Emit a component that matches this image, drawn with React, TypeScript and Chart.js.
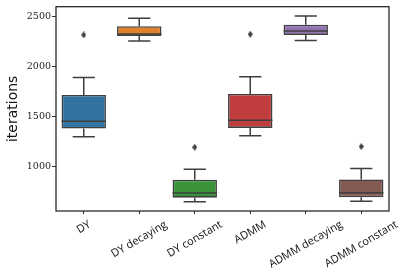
import React, { useEffect, useRef } from "react";
import { Chart, registerables } from "chart.js";

Chart.register(...registerables);

const categories = ["DY", "DY decaying", "DY constant", "ADMM", "ADMM decaying", "ADMM constant"];
const whiskerLow = [1294, 2257, 644, 1304, 2260, 647];
const q1 = [1377, 2307, 684, 1384, 2317, 687];
const median = [1450, 2327, 730, 1460, 2357, 734];
const q3 = [1714, 2404, 864, 1724, 2420, 867];
const whiskerHigh = [1890, 2484, 970, 1897, 2507, 977];
const outliers = [2317, null, 1190, 2324, null, 1197];
const colors = ["#3274a1", "#e1812c", "#3a923a", "#c03d3e", "#9372b2", "#845b53"];
const yTicks = [1000, 1500, 2000, 2500];

const EDGE = "#3f3f3f";
const XFONT_SIZE = 11;
const XFONT = `${XFONT_SIZE}px 'Open Sans', sans-serif`;

function makeThinDiamond(): HTMLCanvasElement {
  const c = document.createElement("canvas");
  c.width = 5;
  c.height = 7;
  const g = c.getContext("2d")!;
  g.fillStyle = EDGE;
  g.beginPath();
  g.moveTo(2.5, 0);
  g.lineTo(5, 3.5);
  g.lineTo(2.5, 7);
  g.lineTo(0, 3.5);
  g.closePath();
  g.fill();
  return c;
}

const boxPlugin = {
  id: "boxParts",
  beforeDatasetsDraw(chart: any) {
    const ctx = chart.ctx;
    const x = chart.scales.x;
    const y = chart.scales.y;
    const meta = chart.getDatasetMeta(0);
    ctx.save();
    ctx.strokeStyle = EDGE;
    ctx.lineWidth = 1.5;
    categories.forEach((_, i) => {
      const cx = x.getPixelForValue(i);
      const bar = meta.data[i];
      const half = bar ? bar.width / 4 : 11;
      ctx.beginPath();
      ctx.moveTo(cx, y.getPixelForValue(whiskerLow[i]));
      ctx.lineTo(cx, y.getPixelForValue(q1[i]));
      ctx.moveTo(cx, y.getPixelForValue(q3[i]));
      ctx.lineTo(cx, y.getPixelForValue(whiskerHigh[i]));
      ctx.moveTo(cx - half, y.getPixelForValue(whiskerLow[i]));
      ctx.lineTo(cx + half, y.getPixelForValue(whiskerLow[i]));
      ctx.moveTo(cx - half, y.getPixelForValue(whiskerHigh[i]));
      ctx.lineTo(cx + half, y.getPixelForValue(whiskerHigh[i]));
      ctx.stroke();
    });
    ctx.restore();
  },
  afterDatasetsDraw(chart: any) {
    const ctx = chart.ctx;
    const y = chart.scales.y;
    const x = chart.scales.x;
    const meta = chart.getDatasetMeta(0);
    ctx.save();
    ctx.strokeStyle = EDGE;
    ctx.lineWidth = 1.5;
    categories.forEach((_, i) => {
      const bar = meta.data[i];
      if (!bar) return;
      const l = bar.x - bar.width / 2;
      const r = bar.x + bar.width / 2;
      const my = y.getPixelForValue(median[i]);
      ctx.beginPath();
      ctx.moveTo(l, my);
      ctx.lineTo(r, my);
      ctx.stroke();
    });
    const a = chart.chartArea;
    ctx.strokeStyle = "#222";
    ctx.lineWidth = 1.25;
    ctx.strokeRect(a.left, a.top, a.right - a.left, a.bottom - a.top);

    // x tick labels, rotated 30deg and centered on the tick (matplotlib style)
    const ang = (30 * Math.PI) / 180;
    ctx.font = XFONT;
    ctx.fillStyle = "#111";
    ctx.textAlign = "center";
    ctx.textBaseline = "middle";
    const h = XFONT_SIZE * 1.0;
    categories.forEach((lab, i) => {
      const cx = x.getPixelForValue(i);
      const w = ctx.measureText(lab).width;
      const H = w * Math.sin(ang) + h * Math.cos(ang);
      const top = a.bottom + 8;
      ctx.save();
      ctx.translate(cx, top + H / 2);
      ctx.rotate(-ang);
      ctx.fillText(lab, 0, 0);
      ctx.restore();
    });
    ctx.restore();
  },
};

export default function App() {
  const ref = useRef<HTMLCanvasElement>(null);
  useEffect(() => {
    document.body.style.margin = "0";
    const diamond = makeThinDiamond();
    const chart = new Chart(ref.current!, {
      type: "bar",
      data: {
        labels: categories,
        datasets: [
          {
            type: "bar",
            data: categories.map((_, i) => [q1[i], q3[i]]) as any,
            backgroundColor: colors,
            borderColor: EDGE,
            borderWidth: 1.6,
            borderSkipped: false,
            categoryPercentage: 1,
            barPercentage: 0.8,
            order: 2,
          } as any,
          {
            type: "line",
            data: outliers as any,
            showLine: false,
            pointStyle: diamond,
            pointRadius: 3,
            order: 1,
          } as any,
        ],
      },
      options: {
        animation: false,
        responsive: false,
        maintainAspectRatio: false,
        layout: { padding: { left: 0, right: 18, top: 6, bottom: 0 } },
        plugins: { legend: { display: false }, tooltip: { enabled: false } },
        scales: {
          x: {
            offset: true,
            grid: { display: true, drawOnChartArea: false, drawTicks: true, tickLength: 3, color: "#333", offset: false },
            border: { display: false },
            ticks: { display: false },
            afterFit(s: any) {
              s.height = 65;
            },
          },
          y: {
            min: 550,
            max: 2600,
            grid: { display: true, drawOnChartArea: false, drawTicks: true, tickLength: 4, color: "#333" },
            border: { display: false },
            afterBuildTicks(s: any) {
              s.ticks = yTicks.map((v) => ({ value: v }));
            },
            ticks: {
              padding: 1,
              color: "#222",
              font: { family: "'DejaVu Serif', serif", size: 9.5 },
              callback: (v: any) => String(v),
            },
            title: {
              display: true,
              text: "iterations",
              color: "#111",
              font: { family: "'DejaVu Sans', sans-serif", size: 14 },
              padding: { top: 5, bottom: 0 },
            },
            afterFit(s: any) {
              s.width = 56;
            },
          },
        },
      },
      plugins: [boxPlugin],
    });
    return () => chart.destroy();
  }, []);
  return <canvas ref={ref} width={407} height={276} style={{ display: "block" }} />;
}
